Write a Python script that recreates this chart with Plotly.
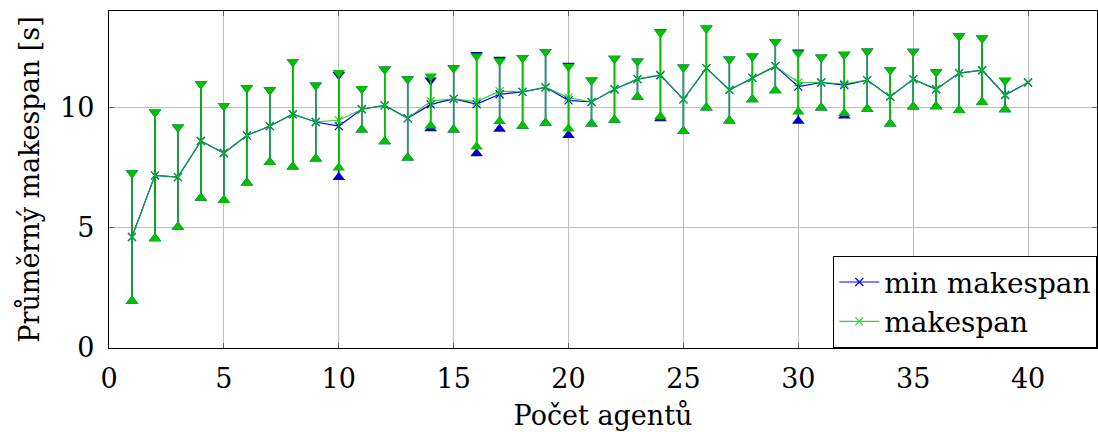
import plotly.graph_objects as go

# Number of agents
agents = list(range(1, 41))

# Average makespan [s] and its spread (error bar half-length)
makespan_mean = [4.61, 7.17, 7.10, 8.60, 8.10, 8.83, 9.22, 9.71, 9.39, 9.46,
                 9.92, 10.08, 9.54, 10.26, 10.35, 10.24, 10.67, 10.64, 10.83, 10.40,
                 10.22, 10.75, 11.17, 11.36, 10.33, 11.63, 10.72, 11.22, 11.71, 11.03,
                 11.03, 10.97, 11.13, 10.44, 11.17, 10.75, 11.42, 11.54, 10.51, 11.03]
makespan_err = [2.66, 2.62, 2.07, 2.37, 1.96, 1.97, 1.50, 2.18, 1.53, 1.97,
                0.85, 1.50, 1.64, 1.03, 1.28, 1.88, 1.25, 1.42, 1.48, 1.29,
                0.90, 1.28, 0.74, 1.74, 1.33, 1.65, 1.28, 0.90, 1.01, 1.22,
                1.05, 1.22, 1.20, 1.12, 1.15, 0.72, 1.54, 1.33, 0.60, 0.00]

# Average minimal makespan [s] and its spread
min_mean = [4.61, 7.17, 7.10, 8.60, 8.10, 8.83, 9.22, 9.71, 9.39, 9.22,
            9.92, 10.08, 9.54, 10.12, 10.35, 10.13, 10.54, 10.64, 10.83, 10.29,
            10.22, 10.75, 11.17, 11.33, 10.33, 11.63, 10.72, 11.22, 11.71, 10.86,
            11.03, 10.92, 11.13, 10.44, 11.17, 10.75, 11.42, 11.54, 10.51, 11.03]
min_err = [2.66, 2.62, 2.07, 2.37, 1.96, 1.97, 1.50, 2.18, 1.53, 2.13,
           0.85, 1.50, 1.64, 1.00, 1.28, 2.05, 1.44, 1.42, 1.48, 1.45,
           0.90, 1.28, 0.74, 1.80, 1.33, 1.65, 1.28, 0.90, 1.01, 1.43,
           1.05, 1.27, 1.20, 1.12, 1.15, 0.72, 1.54, 1.33, 0.60, 0.00]

x_ticks = [0, 5, 10, 15, 20, 25, 30, 35, 40]
y_ticks = [0, 5, 10]

BLUE = "#0000ff"
BLUE_BAR = "#0000c8"
GREEN = "#00cc00"
GREEN_BAR = "#00c000"
FONT = "DejaVu Serif"

fig = go.Figure()


def add_series(name, mean, err, line_color, bar_color, opacity=1.0):
    has_bar = [e > 0 for e in err]
    bx = [x for x, h in zip(agents, has_bar) if h]
    upper = [m + e for m, e, h in zip(mean, err, has_bar) if h]
    lower = [m - e for m, e, h in zip(mean, err, has_bar) if h]
    # error bar whiskers
    fig.add_trace(go.Scatter(
        x=agents, y=mean, mode="none", showlegend=False, hoverinfo="skip",
        error_y=dict(type="data", array=err, visible=True, color=bar_color,
                     thickness=1.5, width=0),
    ))
    # triangle end marks of the whiskers
    fig.add_trace(go.Scatter(
        x=bx, y=upper, mode="markers", showlegend=False, hoverinfo="skip",
        marker=dict(symbol="triangle-down", size=11, color=bar_color,
                    line=dict(width=0)),
    ))
    fig.add_trace(go.Scatter(
        x=bx, y=lower, mode="markers", showlegend=False, hoverinfo="skip",
        marker=dict(symbol="triangle-up", size=11, color=bar_color,
                    line=dict(width=0)),
    ))
    # mean line with x marks
    fig.add_trace(go.Scatter(
        x=agents, y=mean, mode="lines+markers", name=name, opacity=opacity,
        line=dict(color=line_color, width=1.2),
        marker=dict(symbol="x-thin", size=8, color=line_color,
                    line=dict(color=line_color, width=1.2)),
    ))


add_series("min makespan", min_mean, min_err, BLUE, BLUE_BAR)
add_series("makespan", makespan_mean, makespan_err, GREEN, GREEN_BAR, opacity=0.8)

axis_common = dict(
    showline=True, linecolor="black", linewidth=1.3, mirror="ticks",
    showgrid=True, gridcolor="#bdbdbd", gridwidth=1,
    ticks="inside", ticklen=5, tickcolor="#606060", tickwidth=1,
    zeroline=False,
    tickfont=dict(family=FONT, size=27, color="black"),
)

fig.update_layout(
    width=1098, height=432,
    margin=dict(l=109, r=1, t=11, b=84),
    paper_bgcolor="white", plot_bgcolor="white",
    font=dict(family=FONT, color="black"),
    xaxis=dict(range=[0, 43], tickvals=x_ticks, ticklabelstandoff=6,
               title=dict(text="Počet agentů", font=dict(family=FONT, size=27),
                          standoff=13),
               **axis_common),
    yaxis=dict(range=[0, 14], tickvals=y_ticks, ticklabelstandoff=8,
               title=dict(text="Průměrný makespan [s]",
                          font=dict(family=FONT, size=27), standoff=12),
               **axis_common),
    legend=dict(x=1, y=0, xanchor="right", yanchor="bottom",
                bgcolor="white", bordercolor="black", borderwidth=1.3,
                font=dict(family=FONT, size=28, color="black"),
                itemwidth=40, tracegroupgap=0),
    showlegend=True,
)

fig.write_html("out.html")
